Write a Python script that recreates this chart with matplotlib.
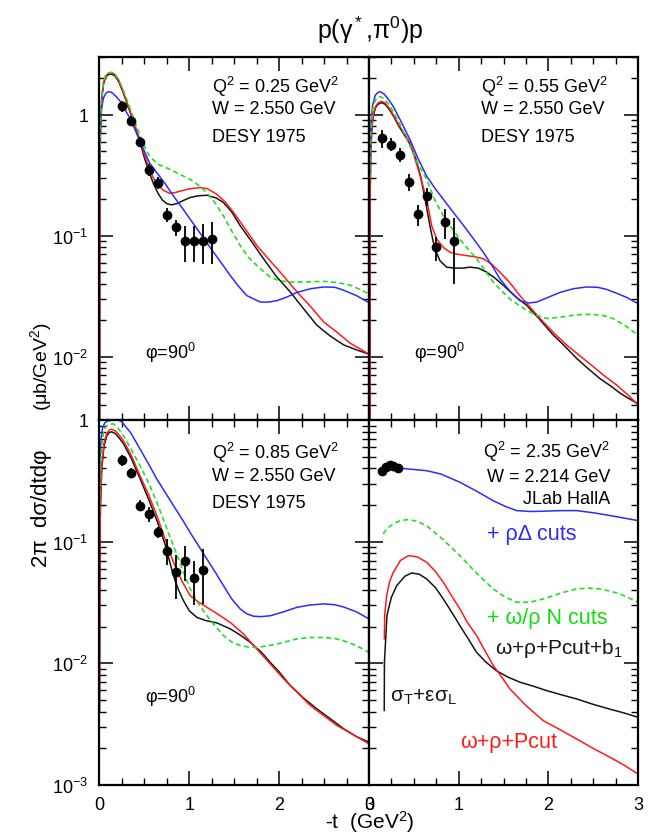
import numpy as np
import matplotlib
matplotlib.use("Agg")
import matplotlib.pyplot as plt
from matplotlib.ticker import MultipleLocator, LogLocator, FuncFormatter, NullFormatter

plt.rcParams["font.family"] = ["Liberation Sans", "DejaVu Sans"]
plt.rcParams["mathtext.fontset"] = "custom"
plt.rcParams["mathtext.rm"] = "Liberation Sans"
plt.rcParams["mathtext.it"] = "Liberation Sans"
plt.rcParams["mathtext.bf"] = "Liberation Sans"

# ---- panel A : Q2 = 0.25, DESY 1975 ----
tA_data = [0.25, 0.35, 0.45, 0.55, 0.65, 0.75, 0.85, 0.95, 1.05, 1.15, 1.25]
vA_data = [1.17, 0.89, 0.60, 0.35, 0.275, 0.149, 0.117, 0.091, 0.091, 0.091, 0.094]
eA_data = [0.12, 0.08, 0.05, 0.04, 0.03, 0.02, 0.018, 0.03, 0.03, 0.033, 0.036]

tA_red = [0.0, 0.003, 0.01, 0.025, 0.045, 0.07, 0.1, 0.136, 0.17, 0.21, 0.25, 0.3, 0.35, 0.4, 0.45, 0.5,
          0.556, 0.6, 0.656, 0.72, 0.786, 0.85, 0.9, 1.0, 1.12, 1.2, 1.306, 1.4, 1.492, 1.6, 1.752, 1.9,
          2.012, 2.198, 2.35, 2.495, 2.65, 2.793, 3.0]
vA_red = [1e-4, 0.29, 0.7, 1.4, 1.85, 2.1, 2.2, 2.23, 2.15, 1.95, 1.65, 1.3, 1.02, 0.8, 0.62, 0.47,
          0.353, 0.3, 0.258, 0.235, 0.224, 0.228, 0.234, 0.244, 0.25, 0.245, 0.22, 0.19, 0.156, 0.12, 0.083, 0.062,
          0.05, 0.0343, 0.026, 0.0194, 0.0158, 0.0129, 0.0105]
tA_black = [0.0, 0.003, 0.01, 0.025, 0.045, 0.07, 0.1, 0.136, 0.17, 0.21, 0.25, 0.3, 0.35, 0.4, 0.45, 0.5,
            0.556, 0.6, 0.65, 0.7, 0.75, 0.8, 0.86, 0.93, 1.009, 1.1, 1.195, 1.3, 1.38, 1.47, 1.566, 1.7,
            1.826, 1.97, 2.124, 2.27, 2.42, 2.57, 2.72, 2.86, 3.0]
vA_black = [1e-4, 0.28, 0.68, 1.35, 1.8, 2.05, 2.15, 2.17, 2.1, 1.9, 1.62, 1.28, 1.0, 0.78, 0.6, 0.44,
            0.33, 0.27, 0.225, 0.197, 0.184, 0.18, 0.184, 0.195, 0.207, 0.214, 0.216, 0.205, 0.188, 0.158, 0.121, 0.088,
            0.0645, 0.046, 0.0343, 0.025, 0.0182, 0.0148, 0.0125, 0.0114, 0.0105]
tA_green = [0.0, 0.003, 0.01, 0.025, 0.045, 0.07, 0.1, 0.136, 0.17, 0.21, 0.25, 0.3, 0.35, 0.4, 0.45, 0.5,
            0.556, 0.65, 0.786, 0.9, 1.009, 1.1, 1.195, 1.29, 1.38, 1.47, 1.566, 1.66, 1.752, 1.9, 2.0,
            2.124, 2.3, 2.495, 2.65, 2.793, 2.9, 3.0]
vA_green = [0.29, 0.45, 0.8, 1.42, 1.88, 2.12, 2.22, 2.24, 2.17, 1.98, 1.7, 1.36, 1.08, 0.85, 0.68, 0.55,
            0.455, 0.39, 0.353, 0.32, 0.292, 0.262, 0.227, 0.185, 0.146, 0.11, 0.083, 0.066, 0.0567, 0.0455, 0.0425,
            0.0414, 0.0415, 0.042, 0.041, 0.039, 0.036, 0.033]
tA_blue = [0.0, 0.004, 0.012, 0.025, 0.045, 0.07, 0.09, 0.117, 0.15, 0.19, 0.247, 0.3, 0.338, 0.4, 0.45, 0.5,
           0.556, 0.638, 0.73, 0.823, 0.92, 1.009, 1.14, 1.27, 1.36, 1.455, 1.55, 1.64, 1.79, 1.88, 1.97,
           2.08, 2.198, 2.35, 2.495, 2.62, 2.72, 2.86, 3.0]
vA_blue = [0.37, 0.6, 0.9, 1.15, 1.38, 1.5, 1.54, 1.55, 1.5, 1.4, 1.25, 1.05, 0.94, 0.74, 0.6, 0.5,
           0.40, 0.332, 0.27, 0.213, 0.17, 0.137, 0.1, 0.073, 0.059, 0.047, 0.038, 0.032, 0.0283, 0.0283, 0.029,
           0.031, 0.034, 0.0365, 0.0377, 0.0375, 0.0354, 0.032, 0.028]

# ---- panel B : Q2 = 0.55, DESY 1975 ----
tB_data = [0.15, 0.25, 0.35, 0.45, 0.55, 0.65, 0.75, 0.85, 0.95]
vB_data = [0.643, 0.567, 0.469, 0.278, 0.151, 0.211, 0.080, 0.130, 0.090]
eB_data = [0.11, 0.07, 0.06, 0.045, 0.03, 0.035, 0.018, 0.036, 0.05]

tB_red = [0.011, 0.012, 0.02, 0.035, 0.05, 0.075, 0.1, 0.141, 0.18, 0.22, 0.271, 0.33, 0.4, 0.457, 0.55,
          0.643, 0.699, 0.755, 0.829, 0.903, 1.0, 1.089, 1.18, 1.275, 1.37, 1.46, 1.57, 1.683, 1.81, 1.943,
          2.07, 2.204, 2.35, 2.5, 2.63, 2.76, 2.88, 3.0]
vB_red = [1e-4, 0.2, 0.55, 0.85, 1.02, 1.18, 1.25, 1.29, 1.25, 1.15, 1.0, 0.83, 0.69, 0.585, 0.353,
          0.2, 0.121, 0.094, 0.08, 0.073, 0.07, 0.0685, 0.067, 0.0645, 0.058, 0.050, 0.041, 0.032, 0.025, 0.0194,
          0.0155, 0.0125, 0.0102, 0.0083, 0.0069, 0.00585, 0.0049, 0.004]
tB_black = [0.011, 0.012, 0.02, 0.035, 0.05, 0.075, 0.1, 0.141, 0.18, 0.22, 0.271, 0.33, 0.4, 0.457, 0.52,
            0.58, 0.643, 0.68, 0.718, 0.755, 0.792, 0.866, 0.95, 1.05, 1.126, 1.22, 1.312, 1.4, 1.5, 1.62,
            1.758, 1.9, 2.055, 2.19, 2.315, 2.45, 2.575, 2.7, 2.8, 2.9, 3.0]
vB_black = [1e-4, 0.19, 0.52, 0.82, 1.0, 1.15, 1.22, 1.26, 1.22, 1.12, 0.98, 0.81, 0.67, 0.57, 0.44,
            0.30, 0.17, 0.12, 0.088, 0.072, 0.062, 0.055, 0.054, 0.054, 0.055, 0.054, 0.050, 0.045, 0.0388, 0.032,
            0.0266, 0.0205, 0.0151, 0.0121, 0.0097, 0.0079, 0.0066, 0.0057, 0.005, 0.0045, 0.0041]
tB_green = [0.011, 0.02, 0.04, 0.07, 0.1, 0.123, 0.17, 0.22, 0.271, 0.35, 0.457, 0.55, 0.643, 0.73, 0.829,
            0.92, 1.014, 1.1, 1.2, 1.29, 1.386, 1.48, 1.572, 1.66, 1.758, 1.87, 1.98, 2.13, 2.278, 2.4,
            2.5, 2.62, 2.72, 2.86, 3.0]
vB_green = [0.3, 0.7, 1.1, 1.32, 1.4, 1.41, 1.36, 1.22, 1.06, 0.82, 0.55, 0.39, 0.292, 0.2, 0.146,
            0.116, 0.094, 0.078, 0.0645, 0.052, 0.0414, 0.035, 0.030, 0.027, 0.0242, 0.022, 0.0207, 0.0212, 0.022, 0.0224,
            0.0224, 0.0218, 0.0207, 0.018, 0.0151]
tB_blue = [0.011, 0.02, 0.04, 0.07, 0.1, 0.123, 0.17, 0.22, 0.271, 0.35, 0.457, 0.55, 0.643, 0.73, 0.829,
           0.92, 1.014, 1.14, 1.275, 1.37, 1.46, 1.57, 1.683, 1.78, 1.87, 2.0, 2.13, 2.28, 2.427, 2.55,
           2.65, 2.76, 2.87, 3.0]
vB_blue = [0.35, 0.8, 1.2, 1.45, 1.53, 1.55, 1.48, 1.33, 1.17, 0.9, 0.623, 0.43, 0.311, 0.25, 0.2,
           0.163, 0.133, 0.1, 0.073, 0.057, 0.044, 0.035, 0.029, 0.0278, 0.0283, 0.031, 0.034, 0.0365, 0.0377, 0.0375,
           0.036, 0.0335, 0.031, 0.0275]

# ---- panel C : Q2 = 0.85, DESY 1975 ----
tC_data = [0.25, 0.35, 0.45, 0.55, 0.65, 0.75, 0.85, 0.95, 1.05, 1.15]
vC_data = [0.469, 0.367, 0.198, 0.169, 0.119, 0.0844, 0.056, 0.0698, 0.050, 0.0586]
eC_data = [0.05, 0.035, 0.02, 0.025, 0.012, 0.02, 0.022, 0.022, 0.02, 0.028]

tC_red = [0.0, 0.003, 0.01, 0.025, 0.05, 0.08, 0.11, 0.136, 0.18, 0.22, 0.266, 0.35, 0.451, 0.55, 0.638,
          0.73, 0.823, 0.92, 1.009, 1.1, 1.195, 1.33, 1.455, 1.6, 1.752, 1.9, 2.05, 2.2, 2.346, 2.5,
          2.644, 2.82, 3.0]
vC_red = [0.004, 0.05, 0.2, 0.42, 0.64, 0.77, 0.83, 0.84, 0.81, 0.75, 0.676, 0.52, 0.348, 0.24, 0.164,
          0.105, 0.0677, 0.047, 0.036, 0.032, 0.0289, 0.025, 0.0217, 0.0175, 0.0131, 0.0099, 0.00745, 0.0058, 0.0045, 0.0037,
          0.00308, 0.0026, 0.00218]
tC_black = [0.0, 0.003, 0.01, 0.025, 0.05, 0.08, 0.11, 0.136, 0.18, 0.22, 0.266, 0.35, 0.451, 0.55, 0.638,
            0.73, 0.823, 0.88, 0.934, 1.0, 1.083, 1.18, 1.306, 1.455, 1.56, 1.678, 1.8, 1.9, 2.0, 2.124,
            2.27, 2.42, 2.57, 2.72, 2.86, 3.0]
vC_black = [0.004, 0.048, 0.19, 0.4, 0.61, 0.74, 0.79, 0.8, 0.77, 0.71, 0.64, 0.49, 0.33, 0.22, 0.15,
            0.095, 0.0525, 0.04, 0.0328, 0.027, 0.0239, 0.0225, 0.0215, 0.0192, 0.0172, 0.0149, 0.0124, 0.0102, 0.0085, 0.00656,
            0.0052, 0.00422, 0.0035, 0.00289, 0.0025, 0.00225]
tC_green = [0.0, 0.005, 0.015, 0.035, 0.06, 0.1, 0.154, 0.2, 0.266, 0.35, 0.451, 0.55, 0.638, 0.73, 0.823,
            0.92, 1.009, 1.1, 1.195, 1.29, 1.38, 1.47, 1.566, 1.66, 1.752, 1.86, 1.975, 2.1, 2.2, 2.35,
            2.495, 2.62, 2.72, 2.86, 3.0]
vC_green = [0.15, 0.3, 0.5, 0.72, 0.86, 0.92, 0.93, 0.87, 0.743, 0.58, 0.421, 0.3, 0.211, 0.14, 0.0927,
            0.06, 0.0409, 0.031, 0.0247, 0.0202, 0.0169, 0.015, 0.014, 0.0136, 0.0135, 0.0139, 0.0144, 0.0152, 0.0159, 0.0163,
            0.0163, 0.016, 0.0153, 0.014, 0.0123]
tC_blue = [0.0, 0.005, 0.015, 0.035, 0.06, 0.09, 0.117, 0.2, 0.247, 0.35, 0.451, 0.55, 0.638, 0.73, 0.823,
           0.92, 1.009, 1.1, 1.195, 1.29, 1.38, 1.47, 1.566, 1.64, 1.715, 1.8, 1.9, 2.05, 2.2, 2.35,
           2.495, 2.62, 2.72, 2.86, 3.0]
vC_blue = [0.27, 0.45, 0.68, 0.87, 0.95, 0.98, 0.99, 1.0, 0.97, 0.78, 0.578, 0.43, 0.327, 0.255, 0.198,
           0.153, 0.119, 0.093, 0.072, 0.056, 0.0435, 0.034, 0.028, 0.0255, 0.0244, 0.0242, 0.0246, 0.0265, 0.0289, 0.0302,
           0.0308, 0.0303, 0.029, 0.0265, 0.0232]

# ---- panel D : Q2 = 2.35, JLab Hall A ----
tD_data = [0.15, 0.19, 0.23, 0.27, 0.32]
vD_data = [0.38, 0.41, 0.43, 0.42, 0.40]
eD_data = [0.02, 0.02, 0.02, 0.02, 0.02]

tD_red = [0.171, 0.175, 0.197, 0.23, 0.271, 0.35, 0.439, 0.54, 0.643, 0.74, 0.829, 0.92, 1.014, 1.1, 1.2,
          1.29, 1.386, 1.48, 1.572, 1.75, 1.943, 2.13, 2.315, 2.5, 2.687, 2.85, 3.0]
vD_red = [0.0159, 0.025, 0.036, 0.047, 0.056, 0.07, 0.0767, 0.075, 0.0677, 0.057, 0.0464, 0.036, 0.028, 0.0215, 0.0169,
          0.0128, 0.0096, 0.0077, 0.00616, 0.0045, 0.00338, 0.00285, 0.00239, 0.002, 0.00169, 0.00145, 0.00123]
tD_black = [0.17, 0.172, 0.2, 0.25, 0.309, 0.4, 0.476, 0.56, 0.643, 0.74, 0.829, 0.92, 1.014, 1.1, 1.2,
            1.3, 1.42, 1.55, 1.683, 1.83, 1.98, 2.15, 2.315, 2.5, 2.687, 2.85, 3.0]
vD_black = [0.0041, 0.0102, 0.0247, 0.035, 0.0435, 0.052, 0.0553, 0.054, 0.0494, 0.042, 0.0338, 0.0265, 0.0204, 0.0162, 0.0123,
            0.0103, 0.0087, 0.0077, 0.007, 0.0065, 0.00597, 0.0055, 0.0051, 0.0046, 0.0042, 0.0039, 0.0036]
tD_green = [0.159, 0.2, 0.271, 0.35, 0.439, 0.54, 0.643, 0.82, 1.014, 1.2, 1.386, 1.52, 1.646, 1.8, 1.943,
            2.15, 2.315, 2.45, 2.575, 2.7, 2.8, 3.0]
vD_green = [0.116, 0.128, 0.14, 0.149, 0.152, 0.147, 0.135, 0.105, 0.0767, 0.055, 0.0409, 0.035, 0.0318, 0.0318, 0.0338,
            0.038, 0.0409, 0.0415, 0.0409, 0.039, 0.0372, 0.0318]
tD_blue = [0.17, 0.3, 0.45, 0.643, 0.8, 1.014, 1.2, 1.386, 1.52, 1.646, 1.8, 1.943, 2.15, 2.315, 2.5,
           2.687, 2.85, 3.0]
vD_blue = [0.40, 0.405, 0.395, 0.383, 0.36, 0.308, 0.26, 0.217, 0.195, 0.18, 0.177, 0.178, 0.18, 0.18, 0.173,
           0.164, 0.156, 0.149]

kin_labels = [
    ["Q$^2$ = 0.25 GeV$^2$", "W = 2.550 GeV", "DESY 1975"],
    ["Q$^2$ = 0.55 GeV$^2$", "W = 2.550 GeV", "DESY 1975"],
    ["Q$^2$ = 0.85 GeV$^2$", "W = 2.550 GeV", "DESY 1975"],
    ["Q$^2$ = 2.35 GeV$^2$", "W = 2.214 GeV", "JLab HallA"],
]

RED, BLUE, GREEN, BLACK = "#ff1a1a", "#2b2bff", "#22dd22", "#151515"

W, H = 648, 837
fig = plt.figure(figsize=(W / 100, H / 100), dpi=100)
x0, x1, x2 = 99.5, 369, 638
ytop, ymid, ybot = 58, 421, 786


def box(xa, xb, ya, yb):
    return [xa / W, 1 - yb / H, (xb - xa) / W, (yb - ya) / H]


axA = fig.add_axes(box(x0, x1, ytop, ymid))
axB = fig.add_axes(box(x1, x2, ytop, ymid))
axC = fig.add_axes(box(x0, x1, ymid, ybot))
axD = fig.add_axes(box(x1, x2, ymid, ybot))

panels = [
    (axA, (tA_data, vA_data, eA_data), [(tA_black, vA_black), (tA_red, vA_red), (tA_blue, vA_blue), (tA_green, vA_green)]),
    (axB, (tB_data, vB_data, eB_data), [(tB_black, vB_black), (tB_red, vB_red), (tB_blue, vB_blue), (tB_green, vB_green)]),
    (axC, (tC_data, vC_data, eC_data), [(tC_black, vC_black), (tC_red, vC_red), (tC_blue, vC_blue), (tC_green, vC_green)]),
    (axD, (tD_data, vD_data, eD_data), [(tD_black, vD_black), (tD_red, vD_red), (tD_blue, vD_blue), (tD_green, vD_green)]),
]
styles = [dict(color=BLACK, lw=1.1), dict(color=RED, lw=1.1), dict(color=BLUE, lw=1.1),
          dict(color=GREEN, lw=1.2, ls=(0, (3, 2)))]


def ylab(v, pos):
    if abs(v - 1) < 1e-9:
        return "1"
    return r"$10^{%d}$" % round(np.log10(v))


for i, (ax, (td, vd, ed), curves) in enumerate(panels):
    for (t, v), st in zip(curves, styles):
        ax.plot(t, v, **st)
    ax.errorbar(td, vd, yerr=ed, fmt="o", color="black", ms=6, elinewidth=1.3, capsize=0, zorder=5)
    ax.set_yscale("log")
    ax.set_xlim(0, 3)
    ax.set_ylim((0.003, 3) if i < 2 else (0.001, 1))
    ax.xaxis.set_major_locator(MultipleLocator(1))
    ax.xaxis.set_minor_locator(MultipleLocator(0.25))
    ax.yaxis.set_major_locator(LogLocator(base=10))
    ax.yaxis.set_minor_locator(LogLocator(base=10, subs=np.arange(2, 10)))
    ax.yaxis.set_minor_formatter(NullFormatter())
    ax.tick_params(which="both", direction="in", top=True, right=True, labelsize=13, pad=8)
    ax.tick_params(which="major", length=10, width=1.1)
    ax.tick_params(which="minor", length=5, width=1.0)
    for s in ax.spines.values():
        s.set_linewidth(1.6)
    if i in (0, 2):
        ax.yaxis.set_major_formatter(FuncFormatter(ylab))
    else:
        ax.set_yticklabels([])
    if i < 2:
        ax.set_xticklabels([])
    else:
        ax.set_xticks([0, 1, 2, 3])
        ax.set_xticklabels(["0", "1", "2", "3"])

    lab = kin_labels[i]
    if i < 3:
        ys = [0.92, 0.857, 0.782] if i < 2 else [0.912, 0.847, 0.775]
        for s, yy in zip(lab, ys):
            ax.text(0.418, yy, s, transform=ax.transAxes, fontsize=13, va="center", ha="left")
        ax.text(0.169, 0.187 if i < 2 else 0.245, "φ=90$^0$", transform=ax.transAxes,
                fontsize=13, va="center", ha="left")
    else:
        for s, yy in zip(lab, [0.915, 0.844, 0.784]):
            ax.text(0.896, yy, s, transform=ax.transAxes, fontsize=13, va="center", ha="right")

axD.text(0.439, 0.688, "+ ρΔ cuts", transform=axD.transAxes, fontsize=15.5, color=BLUE, va="center")
axD.text(0.439, 0.46, "+ ω/ρ N cuts", transform=axD.transAxes, fontsize=15.5, color="#11dd11", va="center")
axD.text(0.468, 0.378, "ω+ρ+Pcut+b$_1$", transform=axD.transAxes, fontsize=15, color=BLACK, va="center")
axD.text(0.078, 0.244, "σ$_T$+εσ$_L$", transform=axD.transAxes, fontsize=15, color=BLACK, va="center")
axD.text(0.338, 0.118, "ω+ρ+Pcut", transform=axD.transAxes, fontsize=15.5, color=RED, va="center")

fig.text(370 / W, 1 - 30 / H, "p(γ$^*$,π$^0$)p", fontsize=18, ha="center", va="center")
fig.text(370 / W, 1 - 822 / H, "-t  (GeV$^2$)", fontsize=15, ha="center", va="center")
fig.text(41 / W, 1 - 508 / H, "2π  dσ/dtdφ", fontsize=16, rotation=90, ha="center", va="center")
fig.text(41 / W, 1 - 367 / H, "(μb/GeV$^2$)", fontsize=14, rotation=90, ha="center", va="center")

fig.savefig("out.png", dpi=100)
